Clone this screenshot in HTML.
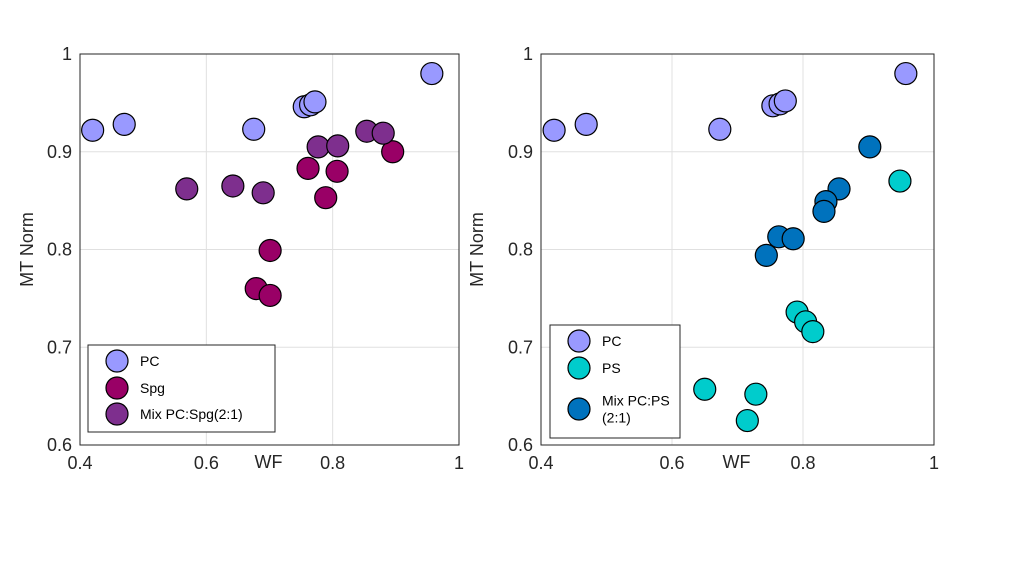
<!DOCTYPE html>
<html><head><meta charset="utf-8"><style>
body{margin:0;background:#fff;}
svg{display:block;font-family:"Liberation Sans",sans-serif;}
</style></head><body>
<svg id="chart" width="1011" height="586"></svg>
<script>
const xTicks=[0.4,0.6,0.8,1];
const yTicks=[0.6,0.7,0.8,0.9,1];
const xTickLabels=["0.4","0.6","0.8","1"];
const yTickLabels=["0.6","0.7","0.8","0.9","1"];
const leftPCx=[0.420,0.470,0.675,0.755,0.765,0.772,0.957];
const leftPCy=[0.922,0.928,0.923,0.946,0.948,0.951,0.980];
const leftSpgx=[0.761,0.807,0.789,0.701,0.679,0.701,0.895];
const leftSpgy=[0.883,0.880,0.853,0.799,0.760,0.753,0.900];
const leftMixx=[0.569,0.642,0.690,0.777,0.808,0.854,0.880];
const leftMixy=[0.862,0.865,0.858,0.905,0.906,0.921,0.919];
const rightPCx=[0.420,0.469,0.673,0.754,0.765,0.773,0.957];
const rightPCy=[0.922,0.928,0.923,0.947,0.949,0.952,0.980];
const rightPSx=[0.650,0.728,0.715,0.791,0.804,0.815,0.948];
const rightPSy=[0.657,0.652,0.625,0.736,0.726,0.716,0.870];
const rightMixx=[0.902,0.855,0.835,0.832,0.763,0.785,0.744];
const rightMixy=[0.905,0.862,0.849,0.839,0.813,0.811,0.794];

const NS="http://www.w3.org/2000/svg";
const svg=document.getElementById('chart');
function el(tag,attrs,parent){const e=document.createElementNS(NS,tag);for(const k in attrs)e.setAttribute(k,attrs[k]);(parent||svg).appendChild(e);return e;}

function panel(id,x0,x1,ylabOff,series,legend){
  const y0=54,y1=445;
  const g=el('g',{});
  
  
  const sx=v=>x0+(v-0.4)/0.6*(x1-x0);
  const sy=v=>y1-(v-0.6)/0.4*(y1-y0);
  xTicks.forEach((t,i)=>{
    const l=el('line',{x1:sx(t),x2:sx(t),y1:y0,y2:y1,stroke:'#e0e0e0','stroke-width':1},g);
    
    
    const tx=el('text',{x:sx(t),y:y1+24,'text-anchor':'middle','font-size':18,fill:'#262626'},g);
    tx.textContent=xTickLabels[i];
    
    
  });
  yTicks.forEach((t,i)=>{
    const l=el('line',{x1:x0,x2:x1,y1:sy(t),y2:sy(t),stroke:'#e0e0e0','stroke-width':1},g);
    
    
    const tx=el('text',{x:x0-8,y:sy(t)+6,'text-anchor':'end','font-size':18,fill:'#262626'},g);
    tx.textContent=yTickLabels[i];
    
    
  });
  const box=el('rect',{x:x0,y:y0,width:x1-x0,height:y1-y0,fill:'none',stroke:'#262626','stroke-width':1},g);
  
  
  const xl=el('text',{x:(x0+x1)/2-1,y:468,'text-anchor':'middle','font-size':18,fill:'#262626'},g);
  xl.textContent='WF';
  
  
  const yl=el('text',{x:0,y:0,'text-anchor':'middle','font-size':18,fill:'#262626',transform:`translate(${x0-ylabOff},${(y0+y1)/2}) rotate(-90)`},g);
  yl.textContent='MT Norm';
  
  
  series.forEach(s=>{
    s.xs.forEach((v,i)=>{
      const c=el('circle',{cx:sx(v),cy:sy(s.ys[i]),r:11,fill:s.color,stroke:'#000','stroke-width':1.2},g);
      
      
    });
  });
  const lg=el('g',{},g);
  
  
  el('rect',{x:legend.x,y:legend.y,width:legend.w,height:legend.h,fill:'#fff',stroke:'#262626','stroke-width':1},lg);
  legend.items.forEach(it=>{
    const c=el('circle',{cx:legend.x+29,cy:it.y,r:11,fill:it.color,stroke:'#000','stroke-width':1.2},lg);
    
    
    it.lines.forEach((ln,k)=>{
      const t=el('text',{x:legend.x+52,y:it.y+5+(k-(it.lines.length-1)/2)*17,'font-size':14,fill:'#000'},lg);
      t.textContent=ln;
      
      
    });
  });
}
panel('left-plot',80,459,47,[
  {name:'pc',color:'#9999ff',xs:leftPCx,ys:leftPCy},
  {name:'spg',color:'#990066',xs:leftSpgx,ys:leftSpgy},
  {name:'mix-pc-spg',color:'#7e2f8e',xs:leftMixx,ys:leftMixy}
],{x:88,y:345,w:187,h:87,items:[
  {y:361,color:'#9999ff',lines:['PC']},
  {y:388,color:'#990066',lines:['Spg']},
  {y:414,color:'#7e2f8e',lines:['Mix PC:Spg(2:1)']}
]});
panel('right-plot',541,934,58,[
  {name:'pc',color:'#9999ff',xs:rightPCx,ys:rightPCy},
  {name:'ps',color:'#00cccc',xs:rightPSx,ys:rightPSy},
  {name:'mix-pc-ps',color:'#0072bd',xs:rightMixx,ys:rightMixy}
],{x:550,y:325,w:130,h:113,items:[
  {y:341,color:'#9999ff',lines:['PC']},
  {y:368,color:'#00cccc',lines:['PS']},
  {y:409,color:'#0072bd',lines:['Mix PC:PS','(2:1)']}
]});
</script>
</body></html>
